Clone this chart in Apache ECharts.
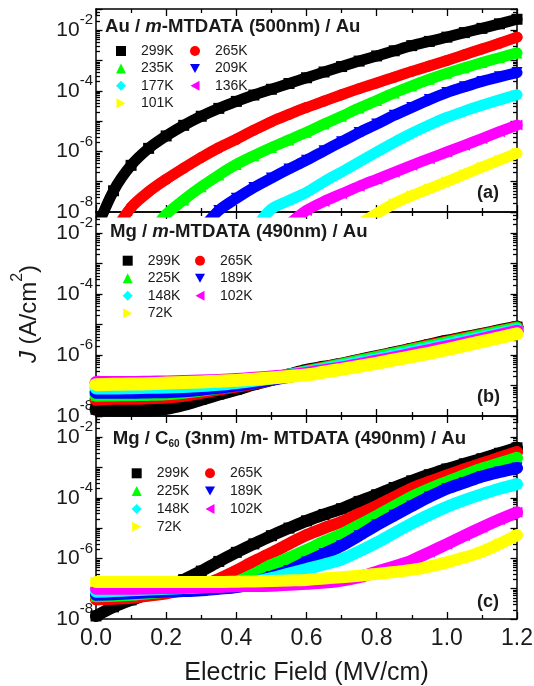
<!DOCTYPE html>
<html>
<head>
<meta charset="utf-8">
<script src="https://cdn.jsdelivr.net/npm/echarts@6/dist/echarts.min.js"></script>
<style>html,body{margin:0;padding:0;background:#fff}#c{width:534px;height:686px}</style>
</head>
<body>
<div id="c"></div>
<script>
// Electric field (MV/cm) sample positions shared by all series
const field = [0,0.05,0.1,0.15,0.2,0.25,0.3,0.35,0.4,0.45,0.5,0.55,0.6,0.65,0.7,0.75,0.8,0.85,0.9,0.95,1.0,1.05,1.1,1.15,1.2];
// Values are log10 of J (A/cm^2); null = no point
// Panel (a): Au / m-MTDATA (500nm) / Au
const tempsA = ['299K','265K','235K','209K','177K','136K','101K'];
const a299 = [-8.6,-7.3,-6.46,-5.9,-5.49,-5.14,-4.84,-4.58,-4.35,-4.14,-3.95,-3.76,-3.57,-3.38,-3.2,-3.02,-2.85,-2.68,-2.51,-2.37,-2.23,-2.08,-1.94,-1.79,-1.64];
const a265 = [null,-8.7,-7.85,-7.33,-6.92,-6.55,-6.2,-5.88,-5.6,-5.3,-5.02,-4.78,-4.55,-4.34,-4.13,-3.93,-3.74,-3.55,-3.36,-3.18,-3.0,-2.81,-2.62,-2.43,-2.23];
const a235 = [null,null,null,-8.8,-8.08,-7.6,-7.17,-6.78,-6.43,-6.14,-5.87,-5.62,-5.37,-5.1,-4.84,-4.57,-4.32,-4.07,-3.84,-3.62,-3.42,-3.24,-3.07,-2.91,-2.75];
const a209 = [null,null,null,null,null,null,-8.6,-7.95,-7.55,-7.19,-6.88,-6.58,-6.29,-5.98,-5.68,-5.38,-5.1,-4.81,-4.55,-4.29,-4.06,-3.87,-3.69,-3.54,-3.4];
const a177 = [null,null,null,null,null,null,null,null,null,-8.6,-7.9,-7.62,-7.35,-7.0,-6.68,-6.35,-6.02,-5.7,-5.4,-5.13,-4.88,-4.67,-4.48,-4.3,-4.13];
const a136 = [null,null,null,null,null,null,null,null,null,null,null,-8.4,-7.95,-7.65,-7.4,-7.15,-6.92,-6.69,-6.46,-6.24,-6.02,-5.8,-5.58,-5.35,-5.13];
const a101 = [null,null,null,null,null,null,null,null,null,null,null,null,null,null,null,-8.4,-8.05,-7.72,-7.46,-7.23,-7.0,-6.76,-6.52,-6.29,-6.06];
// Panel (b): Mg / m-MTDATA (490nm) / Au
const tempsB = ['299K','265K','225K','189K','148K','102K','72K'];
const b299 = [-7.78,-7.8,-7.8,-7.8,-7.75,-7.62,-7.45,-7.28,-7.12,-6.95,-6.8,-6.65,-6.5,-6.4,-6.3,-6.17,-6.05,-5.93,-5.8,-5.67,-5.54,-5.43,-5.32,-5.2,-5.08];
const b265 = [-7.45,-7.42,-7.42,-7.4,-7.38,-7.32,-7.22,-7.12,-7.02,-6.92,-6.8,-6.67,-6.53,-6.42,-6.31,-6.19,-6.07,-5.95,-5.82,-5.69,-5.57,-5.45,-5.34,-5.22,-5.1];
const b225 = [-7.32,-7.31,-7.3,-7.29,-7.27,-7.22,-7.15,-7.07,-6.98,-6.88,-6.78,-6.67,-6.55,-6.44,-6.32,-6.2,-6.08,-5.96,-5.84,-5.72,-5.6,-5.48,-5.36,-5.24,-5.12];
const b189 = [-7.22,-7.22,-7.22,-7.21,-7.2,-7.17,-7.12,-7.06,-6.98,-6.9,-6.8,-6.7,-6.6,-6.49,-6.38,-6.27,-6.15,-6.04,-5.92,-5.8,-5.68,-5.56,-5.44,-5.32,-5.2];
const b148 = [-7.08,-7.08,-7.07,-7.06,-7.05,-7.03,-7.0,-6.96,-6.9,-6.83,-6.75,-6.66,-6.57,-6.47,-6.36,-6.25,-6.14,-6.02,-5.9,-5.78,-5.66,-5.54,-5.42,-5.3,-5.17];
const b102 = [-6.9,-6.9,-6.9,-6.89,-6.88,-6.87,-6.85,-6.83,-6.8,-6.76,-6.72,-6.67,-6.6,-6.51,-6.42,-6.31,-6.2,-6.09,-5.97,-5.85,-5.73,-5.61,-5.48,-5.35,-5.22];
const b72 = [-6.97,-6.96,-6.95,-6.94,-6.92,-6.9,-6.88,-6.86,-6.83,-6.79,-6.75,-6.7,-6.65,-6.56,-6.47,-6.37,-6.27,-6.16,-6.05,-5.94,-5.82,-5.69,-5.56,-5.43,-5.3];
// Panel (c): Mg / C60 (3nm) / m-MTDATA (490nm) / Au
const tempsC = ['299K','265K','225K','189K','148K','102K','72K'];
const c299 = [-7.9,-7.6,-7.37,-7.17,-6.97,-6.7,-6.42,-6.1,-5.8,-5.52,-5.25,-5.0,-4.76,-4.55,-4.36,-4.12,-3.9,-3.66,-3.44,-3.24,-3.05,-2.88,-2.71,-2.53,-2.35];
const c265 = [-7.35,-7.33,-7.3,-7.23,-7.15,-7.04,-6.9,-6.68,-6.4,-6.1,-5.82,-5.52,-5.23,-5.0,-4.79,-4.53,-4.27,-3.98,-3.69,-3.47,-3.26,-3.06,-2.87,-2.68,-2.49];
const c225 = [-7.25,-7.23,-7.2,-7.15,-7.1,-7.05,-7.0,-6.92,-6.78,-6.52,-6.22,-5.98,-5.72,-5.45,-5.2,-4.9,-4.6,-4.28,-3.97,-3.71,-3.48,-3.25,-3.04,-2.86,-2.68];
const c189 = [-7.2,-7.18,-7.15,-7.12,-7.1,-7.08,-7.05,-7.0,-6.95,-6.8,-6.6,-6.4,-6.12,-5.85,-5.58,-5.25,-4.9,-4.58,-4.27,-3.97,-3.7,-3.5,-3.3,-3.15,-3.02];
const c148 = [-7.1,-7.08,-7.05,-7.03,-7.0,-6.98,-6.95,-6.9,-6.85,-6.77,-6.65,-6.5,-6.35,-6.2,-6.03,-5.77,-5.48,-5.16,-4.85,-4.56,-4.3,-4.08,-3.88,-3.7,-3.55];
const c102 = [-7.0,-7.0,-7.0,-6.99,-6.98,-6.97,-6.95,-6.94,-6.92,-6.91,-6.9,-6.87,-6.84,-6.8,-6.73,-6.62,-6.44,-6.27,-6.07,-5.8,-5.53,-5.25,-4.98,-4.72,-4.48];
const c72 = [-6.78,-6.78,-6.78,-6.78,-6.78,-6.78,-6.78,-6.78,-6.77,-6.76,-6.75,-6.73,-6.71,-6.66,-6.62,-6.57,-6.51,-6.45,-6.38,-6.27,-6.13,-5.97,-5.78,-5.52,-5.23];

const Y_MIN = 1e-8, Y_MAX = 0.05;

const FONT = '"Liberation Sans", Arial, Helvetica, sans-serif';
const TXT = '#1a1a1a';
const colors = ['#000000','#ff0000','#00ff00','#0000ff','#00ffff','#ff00ff','#ffff00'];
const symbols = ['rect','circle','triangle','path://M0,0L10,0L5,9Z','diamond','path://M0,5L9,0L9,10Z','path://M0,0L9,5L0,10Z'];

const panels = [
  {temps: tempsA, vals: [a299,a265,a235,a209,a177,a136,a101], lw: 11, ss: 11},
  {temps: tempsB, vals: [b299,b265,b225,b189,b148,b102,b72], lw: 13, ss: 11},
  {temps: tempsC, vals: [c299,c265,c225,c189,c148,c102,c72], lw: 12, ss: 11}
];
const gridTops = [9, 212, 416];
const gridHeights = [203, 204, 203];

const AX = {color: '#000', width: 1.5};
const TK = {color: '#000', width: 1.3};

const grids = gridTops.map((t, i) => ({left: 96, right: 17, top: t, height: gridHeights[i], outerBoundsMode: 'none', containLabel: false}));

const xAxis = [];
const yAxis = [];
panels.forEach((p, i) => {
  const xb = {type: 'value', gridIndex: i, min: 0, max: 1.2, interval: 0.2, splitLine: {show: false},
    axisLine: {onZero: false, lineStyle: AX}, axisTick: {inside: true, length: 7, lineStyle: TK},
    minorTick: {show: true, splitNumber: 2, length: 4, lineStyle: TK}, minorSplitLine: {show: false}};
  xAxis.push(Object.assign({}, xb, {position: 'bottom',
    axisLabel: i === 2 ? {show: true, fontSize: 23, fontFamily: FONT, color: TXT, margin: 8, formatter: v => v.toFixed(1)} : {show: false},
    name: i === 2 ? 'Electric Field (MV/cm)' : '', nameLocation: 'middle', nameGap: 42,
    nameTextStyle: {fontSize: 25, fontFamily: FONT, color: TXT}}));
  xAxis.push(Object.assign({}, xb, {position: 'top', axisLabel: {show: false}}));
  const yb = {type: 'log', logBase: 10, gridIndex: i, min: Y_MIN, max: Y_MAX, splitLine: {show: false}, minorSplitLine: {show: false},
    axisLine: {show: true, onZero: false, lineStyle: AX},
    axisTick: {inside: true, length: 6.5, lineStyle: TK},
    minorTick: {show: true, splitNumber: 9, length: 4, lineStyle: TK}};
  yAxis.push(Object.assign({}, yb, {position: 'left',
    axisLabel: {show: true, margin: 3, fontFamily: FONT, color: TXT,
      formatter: v => { const l = Math.log10(v); const e = Math.round(l); if (Math.abs(l - e) > 1e-6 || e % 2 !== 0) return ''; return '{b|10}{s|' + e + '}'; },
      rich: {b: {fontSize: 21, fontFamily: FONT, color: TXT, padding: [7, 0, 7, 0], verticalAlign: 'bottom'},
             s: {fontSize: 15, fontFamily: FONT, color: TXT, verticalAlign: 'top'}}},
    name: i === 1 ? '{n|}{i|J}{n| (A/cm}{s|2}{n|)}' : '', nameLocation: 'middle', nameGap: 55, nameRotate: 90,
    nameTextStyle: {rich: {
      n: {fontSize: 24, fontFamily: FONT, color: TXT, padding: [7, 0, 0, 0], verticalAlign: 'bottom'},
      i: {fontSize: 24, fontFamily: FONT, fontStyle: 'italic', color: TXT, padding: [7, 0, 0, 0], verticalAlign: 'bottom'},
      s: {fontSize: 16, fontFamily: FONT, color: TXT, verticalAlign: 'top'}}}}));
  yAxis.push(Object.assign({}, yb, {position: 'right', axisLabel: {show: false}}));
});

const series = [];
panels.forEach((p, i) => {
  p.vals.forEach((vals, k) => {
    const data = [];
    field.forEach((e, j) => { if (vals[j] !== null) data.push([e, Math.pow(10, vals[j])]); });
    series.push({type: 'line', name: p.temps[k], xAxisIndex: i * 2, yAxisIndex: i * 2, data: data,
      symbol: symbols[k], symbolSize: p.ss, showSymbol: true, smooth: 0.3, clip: true, silent: true,
      lineStyle: {color: colors[k], width: p.lw, cap: 'round', join: 'round'},
      itemStyle: {color: colors[k]}, z: 2 + k});
  });
});

const legendPos = [
  {cols: [116, 190], top: 44, gap: 3.4},
  {cols: [122.7, 195], top: 253.7, gap: 3.5},
  {cols: [131.7, 205], top: 466.3, gap: 3.8}
];
const legend = [];
panels.forEach((p, i) => {
  const lp = legendPos[i];
  const col1 = [0, 2, 4, 6], col2 = [1, 3, 5];
  [col1, col2].forEach((col, c) => {
    legend.push({orient: 'vertical', left: lp.cols[c], top: lp.top, itemGap: lp.gap, itemWidth: 10, itemHeight: 10,
      padding: 0, selectedMode: false, z: 20,
      textStyle: {fontSize: 14, fontFamily: FONT, color: TXT, lineHeight: 14, padding: [0, 0, 0, 10]},
      data: col.map(k => ({name: p.temps[k], icon: symbols[k], itemStyle: {color: colors[k]}}))});
  });
});

const B = {fontSize: 18.6, fontWeight: 'bold', fontFamily: FONT, color: TXT, verticalAlign: 'top', lineHeight: 20};
const title = [
  {text: '{b|Au / }{bi|m}{b|-MTDATA (500nm) / Au}', left: 105, top: 17, padding: 0, z: 20,
    textStyle: {rich: {b: B, bi: Object.assign({}, B, {fontStyle: 'italic'})}}},
  {text: '{b|Mg / }{bi|m}{b|-MTDATA (490nm) / Au}', left: 110, top: 222.5, padding: 0, z: 20,
    textStyle: {rich: {b: B, bi: Object.assign({}, B, {fontStyle: 'italic'})}}},
  {text: '{b|Mg / C}{sub|60}{b| (3nm) /m- MTDATA (490nm) / Au}', left: 112.7, top: 429, padding: 0, z: 20,
    textStyle: {rich: {b: B, sub: {fontSize: 10, fontWeight: 'bold', fontFamily: FONT, color: TXT, verticalAlign: 'bottom', padding: [13, 0, 0, 0], lineHeight: 10}}}},
  {text: '(a)', left: 477, top: 184, padding: 0, z: 20, textStyle: {fontSize: 18, fontWeight: 'bold', fontFamily: FONT, color: TXT}},
  {text: '(b)', left: 477, top: 388, padding: 0, z: 20, textStyle: {fontSize: 18, fontWeight: 'bold', fontFamily: FONT, color: TXT}},
  {text: '(c)', left: 477, top: 593, padding: 0, z: 20, textStyle: {fontSize: 18, fontWeight: 'bold', fontFamily: FONT, color: TXT}}
];

const chart = echarts.init(document.getElementById('c'), null, {renderer: 'canvas'});
chart.setOption({animation: false, backgroundColor: '#ffffff', grid: grids, xAxis: xAxis, yAxis: yAxis, series: series, legend: legend, title: title});
</script>
</body>
</html>
